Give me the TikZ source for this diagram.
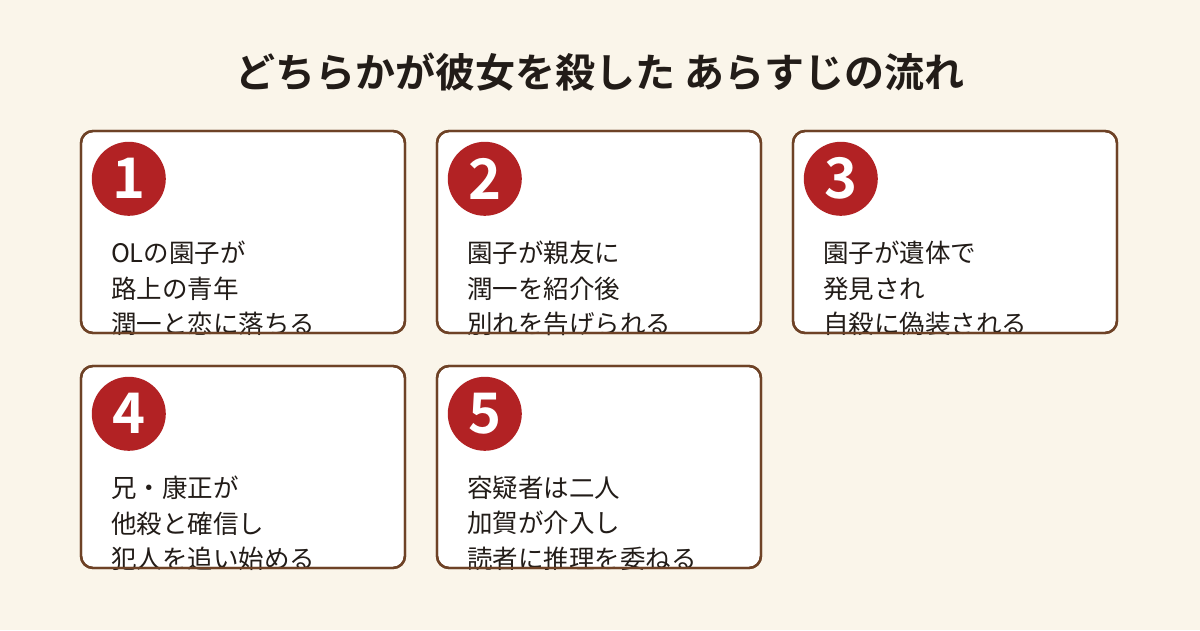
\documentclass[tikz,border=0pt]{standalone}
\usepackage{fontspec}
\setmainfont{Noto Sans CJK JP}[BoldFont={Noto Sans CJK JP Bold}]
\usetikzlibrary{positioning,calc}
\definecolor{paper}{RGB}{250,245,234}
\definecolor{frame}{RGB}{110,66,38}
\definecolor{badge}{RGB}{178,34,36}
\definecolor{ink}{RGB}{34,28,24}
\tikzset{
  card/.style={draw=frame,line width=2.4pt,rounded corners=12pt,minimum width=324pt,minimum height=202pt,inner sep=0},
  num/.style={circle,fill=badge,minimum size=74pt,inner sep=0,text=white,font=\fontsize{56}{56}\selectfont\bfseries},
  body/.style={align=left,anchor=north west,text=ink,inner sep=0,font=\fontsize{25.5}{35.5}\selectfont},
  ttl/.style={text=ink,font=\fontsize{40}{46}\selectfont\bfseries}
}

\begin{document}
\begin{tikzpicture}[x=1pt,y=-1pt]
\fill[paper] (0,0) rectangle (1200,630);
\useasboundingbox (0,0) rectangle (1200,630);
\node[ttl] (title) at (600,72) {どちらかが彼女を殺した あらすじの流れ};
% cards
\foreach \n/\x/\y in {1/243/232,2/599/232,3/955/232,4/243/467,5/599/467}
  \node[card,fill=white] (c\n) at (\x,\y) {};
% texts
\node[body] (t1) at ($(c1.north west)+(31,111)$) {OLの園子が\\路上の青年\\潤一と恋に落ちる};
\node[body] (t2) at ($(c2.north west)+(31,111)$) {園子が親友に\\潤一を紹介後\\別れを告げられる};
\node[body] (t3) at ($(c3.north west)+(31,111)$) {園子が遺体で\\発見され\\自殺に偽装される};
\node[body] (t4) at ($(c4.north west)+(31,111)$) {兄・康正が\\他殺と確信し\\犯人を追い始める};
\node[body] (t5) at ($(c5.north west)+(31,111)$) {容疑者は二人\\加賀が介入し\\読者に推理を委ねる};
% frames over the text, then badges
\foreach \n in {1,...,5} {
  \node[card] at (c\n) {};
  \node[num] (b\n) at ($(c\n.north west)+(49,49)$) {\n};
}
\end{tikzpicture}
\end{document}
